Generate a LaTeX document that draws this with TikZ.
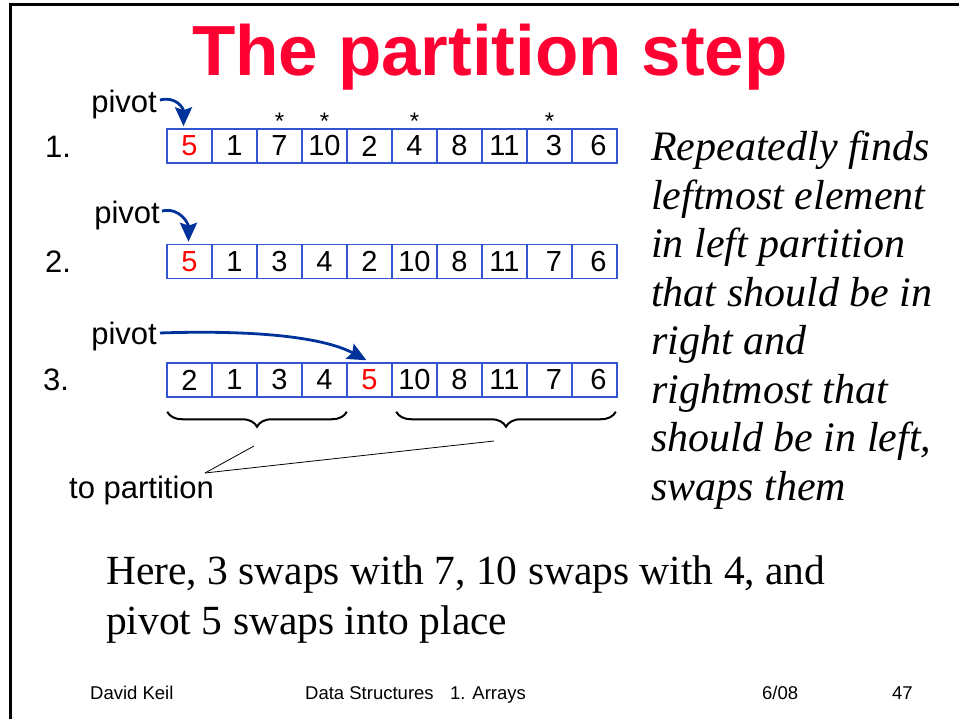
\documentclass[tikz,border=0pt]{standalone}
\usepackage{fontspec}
\setmainfont{Liberation Serif}
\setsansfont{Liberation Sans}
\usetikzlibrary{arrows.meta,calc,decorations.pathreplacing}

\definecolor{titlered}{RGB}{255,0,51}
\definecolor{cellblue}{RGB}{51,85,210}
\definecolor{pivotblue}{RGB}{0,51,153}

\tikzset{
  arraycell/.style={draw=cellblue, line width=1.5pt, minimum width=45pt, minimum height=34pt,
    inner sep=0pt, font=\sffamily\fontsize{29}{30}\selectfont},
  lbl/.style={font=\sffamily\fontsize{31}{34}\selectfont, inner sep=0pt},
  foot/.style={font=\sffamily\fontsize{18.5}{20}\selectfont, inner sep=0pt, anchor=base west},
  pivarrow/.style={draw=pivotblue, line width=2.8pt, -{Stealth[length=19pt,width=17pt,inset=3pt]}},
  swapbrace/.style={decorate, decoration={brace, mirror, amplitude=15pt}, line width=2pt},
}

\begin{document}
\begin{tikzpicture}[x=1pt,y=-1pt]
    \useasboundingbox (0,0) rectangle (959,719);
    % slide frame
    \draw[line width=3pt] (10,719) -- (10,5) -- (959,5);

    \node[font=\sffamily\bfseries\fontsize{71}{80}\selectfont, text=titlered, anchor=base] (title) at (490,76) {The partition step};

    % the three arrays
    \foreach \v [count=\i] in {\textcolor{red}{5},1,7,10,2,4,8,11,\hspace{9pt}3,\hspace{8pt}6}
        \node[arraycell] (r1c\i) at ({167+45*(\i-0.5)},146) {\v};
    \foreach \v [count=\i] in {\textcolor{red}{5},1,3,4,2,10,8,11,\hspace{9pt}7,\hspace{8pt}6}
        \node[arraycell] (r2c\i) at ({167+45*(\i-0.5)},261.5) {\v};
    \foreach \v [count=\i] in {2,1,3,4,\textcolor{red}{5},10,8,11,\hspace{9pt}7,\hspace{8pt}6}
        \node[arraycell] (r3c\i) at ({167+45*(\i-0.5)},380) {\v};

    \foreach \c in {3,4,6,9}
        \node[lbl, font=\sffamily\fontsize{24}{26}\selectfont, anchor=base, yshift=-1pt] (star\c) at (r1c\c.north) {*};

    \node[lbl, anchor=base west] (n1) at (45,158) {1.};
    \node[lbl, anchor=base west] (n2) at (45,273) {2.};
    \node[lbl, anchor=base west] (n3) at (43,391) {3.};

    \node[lbl, anchor=base east] (piv1) at (157,113) {pivot};
    \node[lbl, anchor=base east] (piv2) at (160,224) {pivot};
    \node[lbl, anchor=base east] (piv3) at (157,345) {pivot};

    \draw[pivarrow] ([xshift=3pt,yshift=5pt]piv1.east) .. controls +(16,-4) and +(0,-18) .. ([xshift=-6pt,yshift=2pt]r1c1.north);
    \draw[pivarrow] ([xshift=2pt,yshift=5pt]piv2.east) .. controls +(18,-4) and +(0,-18) .. ([xshift=-1pt,yshift=2pt]r2c1.north);
    \draw[pivarrow] ([xshift=3pt,yshift=4pt]piv3.east) .. controls +(90,-3) and +(-45,-24) .. ([xshift=-3pt,yshift=2pt]r3c5.north);

    % partitions still to sort
    \draw[swapbrace] ($(r3c1.south west)+(1,14)$) -- ($(r3c4.south east)+(-1,14)$);
    \draw[swapbrace] ($(r3c6.south west)+(5,14)$) -- ($(r3c10.south east)+(-2,14)$);
    \node[lbl, anchor=base west] (topart) at (69,498) {to partition};
    \coordinate (tp) at (205,473);
    \coordinate (lt) at (254,446);
    \coordinate (rt) at (494,441);
    \draw[line width=0.8pt] (tp) -- (lt);
    \draw[line width=0.8pt] (tp) -- (rt);

    \node[anchor=north west, inner sep=0pt, align=left, font=\itshape\fontsize{42}{48.5}\selectfont] (note) at (651,131)
        {Repeatedly finds\\leftmost element\\in left partition\\that should be in\\right and\\rightmost that\\should be in left,\\swaps them};

    \node[anchor=north west, inner sep=0pt, align=left, font=\fontsize{41.5}{50}\selectfont] (here) at (106,556)
        {Here, 3 swaps with 7, 10 swaps with 4, and\\pivot 5 swaps into place};

    % footer
    \node[foot] (author) at (90,699) {David Keil};
    \node[foot] (course) at (305,699) {Data Structures};
    \node[foot] (chapter) at (450,699) {1. Arrays};
    \node[foot] (date) at (762,699) {6/08};
    \node[foot] (page) at (892,699) {47};
\end{tikzpicture}
\end{document}
